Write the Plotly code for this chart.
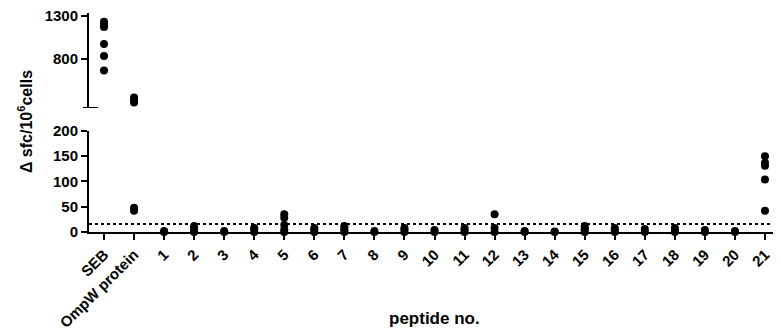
import plotly.graph_objects as go

categories = ["SEB", "OmpW protein"] + [str(i) for i in range(1, 22)]

values = [
    [1230, 1200, 1170, 975, 835, 670],   # SEB
    [360, 330, 300, 48, 42],             # OmpW protein
    [0, 2],                              # 1
    [0, 4, 8, 12],                       # 2
    [0, 2],                              # 3
    [0, 6, 8],                           # 4
    [0, 5, 14, 28, 35],                  # 5
    [0, 5, 8],                           # 6
    [0, 4, 8, 12],                       # 7
    [0, 2],                              # 8
    [0, 5, 8],                           # 9
    [0, 4],                              # 10
    [0, 4, 8],                           # 11
    [0, 8, 35],                          # 12
    [0, 2],                              # 13
    [0, 1],                              # 14
    [0, 4, 8, 12],                       # 15
    [0, 4, 8],                           # 16
    [0, 6],                              # 17
    [0, 4, 8],                           # 18
    [0, 4],                              # 19
    [0, 2],                              # 20
    [42, 104, 131, 137, 150],            # 21
]

threshold = 16
lower_range = [0, 200]
upper_range = [238, 1331]

lower_ticks = [0, 50, 100, 150, 200]
upper_ticks = [800, 1300]

xl, yl, xu, yu = [], [], [], []
for i, (c, vals) in enumerate(zip(categories, values)):
    for v in vals:
        if v <= lower_range[1]:
            xl.append(i); yl.append(v)
        elif v >= upper_range[0]:
            xu.append(i); yu.append(v)

marker = dict(color="black", size=8)
fig = go.Figure()
fig.add_trace(go.Scatter(x=xl, y=yl, mode="markers", marker=marker,
                         xaxis="x", yaxis="y", cliponaxis=False, showlegend=False))
fig.add_trace(go.Scatter(x=xu, y=yu, mode="markers", marker=marker,
                         xaxis="x", yaxis="y2", cliponaxis=False, showlegend=False))
fig.add_trace(go.Scatter(x=[-0.5, len(categories) - 0.5], y=[threshold, threshold],
                         mode="lines", line=dict(color="black", width=2, dash="dot"),
                         xaxis="x", yaxis="y", showlegend=False, hoverinfo="skip"))

tickfont = dict(family="Liberation Sans, Arial", size=15, color="black", weight="bold")
axis_common = dict(
    showline=True, linecolor="black", linewidth=2,
    ticks="outside", ticklen=6, tickwidth=2, tickcolor="black",
    showgrid=False, zeroline=False, automargin=False, tickfont=tickfont,
    ticklabeloverflow="allow",
)

fig.update_layout(
    width=773, height=324,
    margin=dict(l=81, r=1, t=5, b=100),
    paper_bgcolor="white", plot_bgcolor="white",
    xaxis=dict(
        range=[-0.5, len(categories) - 0.5],
        tickmode="array", tickvals=list(range(len(categories))), ticktext=categories,
        tickangle=-45, anchor="y", **axis_common,
    ),
    yaxis=dict(
        domain=[0, 0.4612], range=lower_range,
        tickmode="array", tickvals=lower_ticks, anchor="x", **axis_common,
    ),
    yaxis2=dict(
        domain=[0.5662, 1], range=upper_range,
        tickmode="array", tickvals=upper_ticks, anchor="x", **axis_common,
    ),
    shapes=[
        dict(type="line", xref="paper", yref="y2",
             x0=-0.009, x1=0.013, y0=upper_range[0], y1=upper_range[0],
             line=dict(color="black", width=2)),
    ],
    annotations=[
        dict(text="Δ sfc/10<sup>6</sup>cells", xref="paper", yref="paper",
             x=-0.0926, y=0.502, xanchor="center", yanchor="middle",
             textangle=-90, showarrow=False,
             font=dict(family="Liberation Sans, Arial", size=16, color="black", weight="bold")),
        dict(text="peptide no.", xref="paper", yref="paper",
             x=0.5007, y=-0.397, xanchor="center", yanchor="middle",
             showarrow=False,
             font=dict(family="Liberation Sans, Arial", size=17, color="black", weight="bold")),
    ],
)

fig.write_html("out.html")
